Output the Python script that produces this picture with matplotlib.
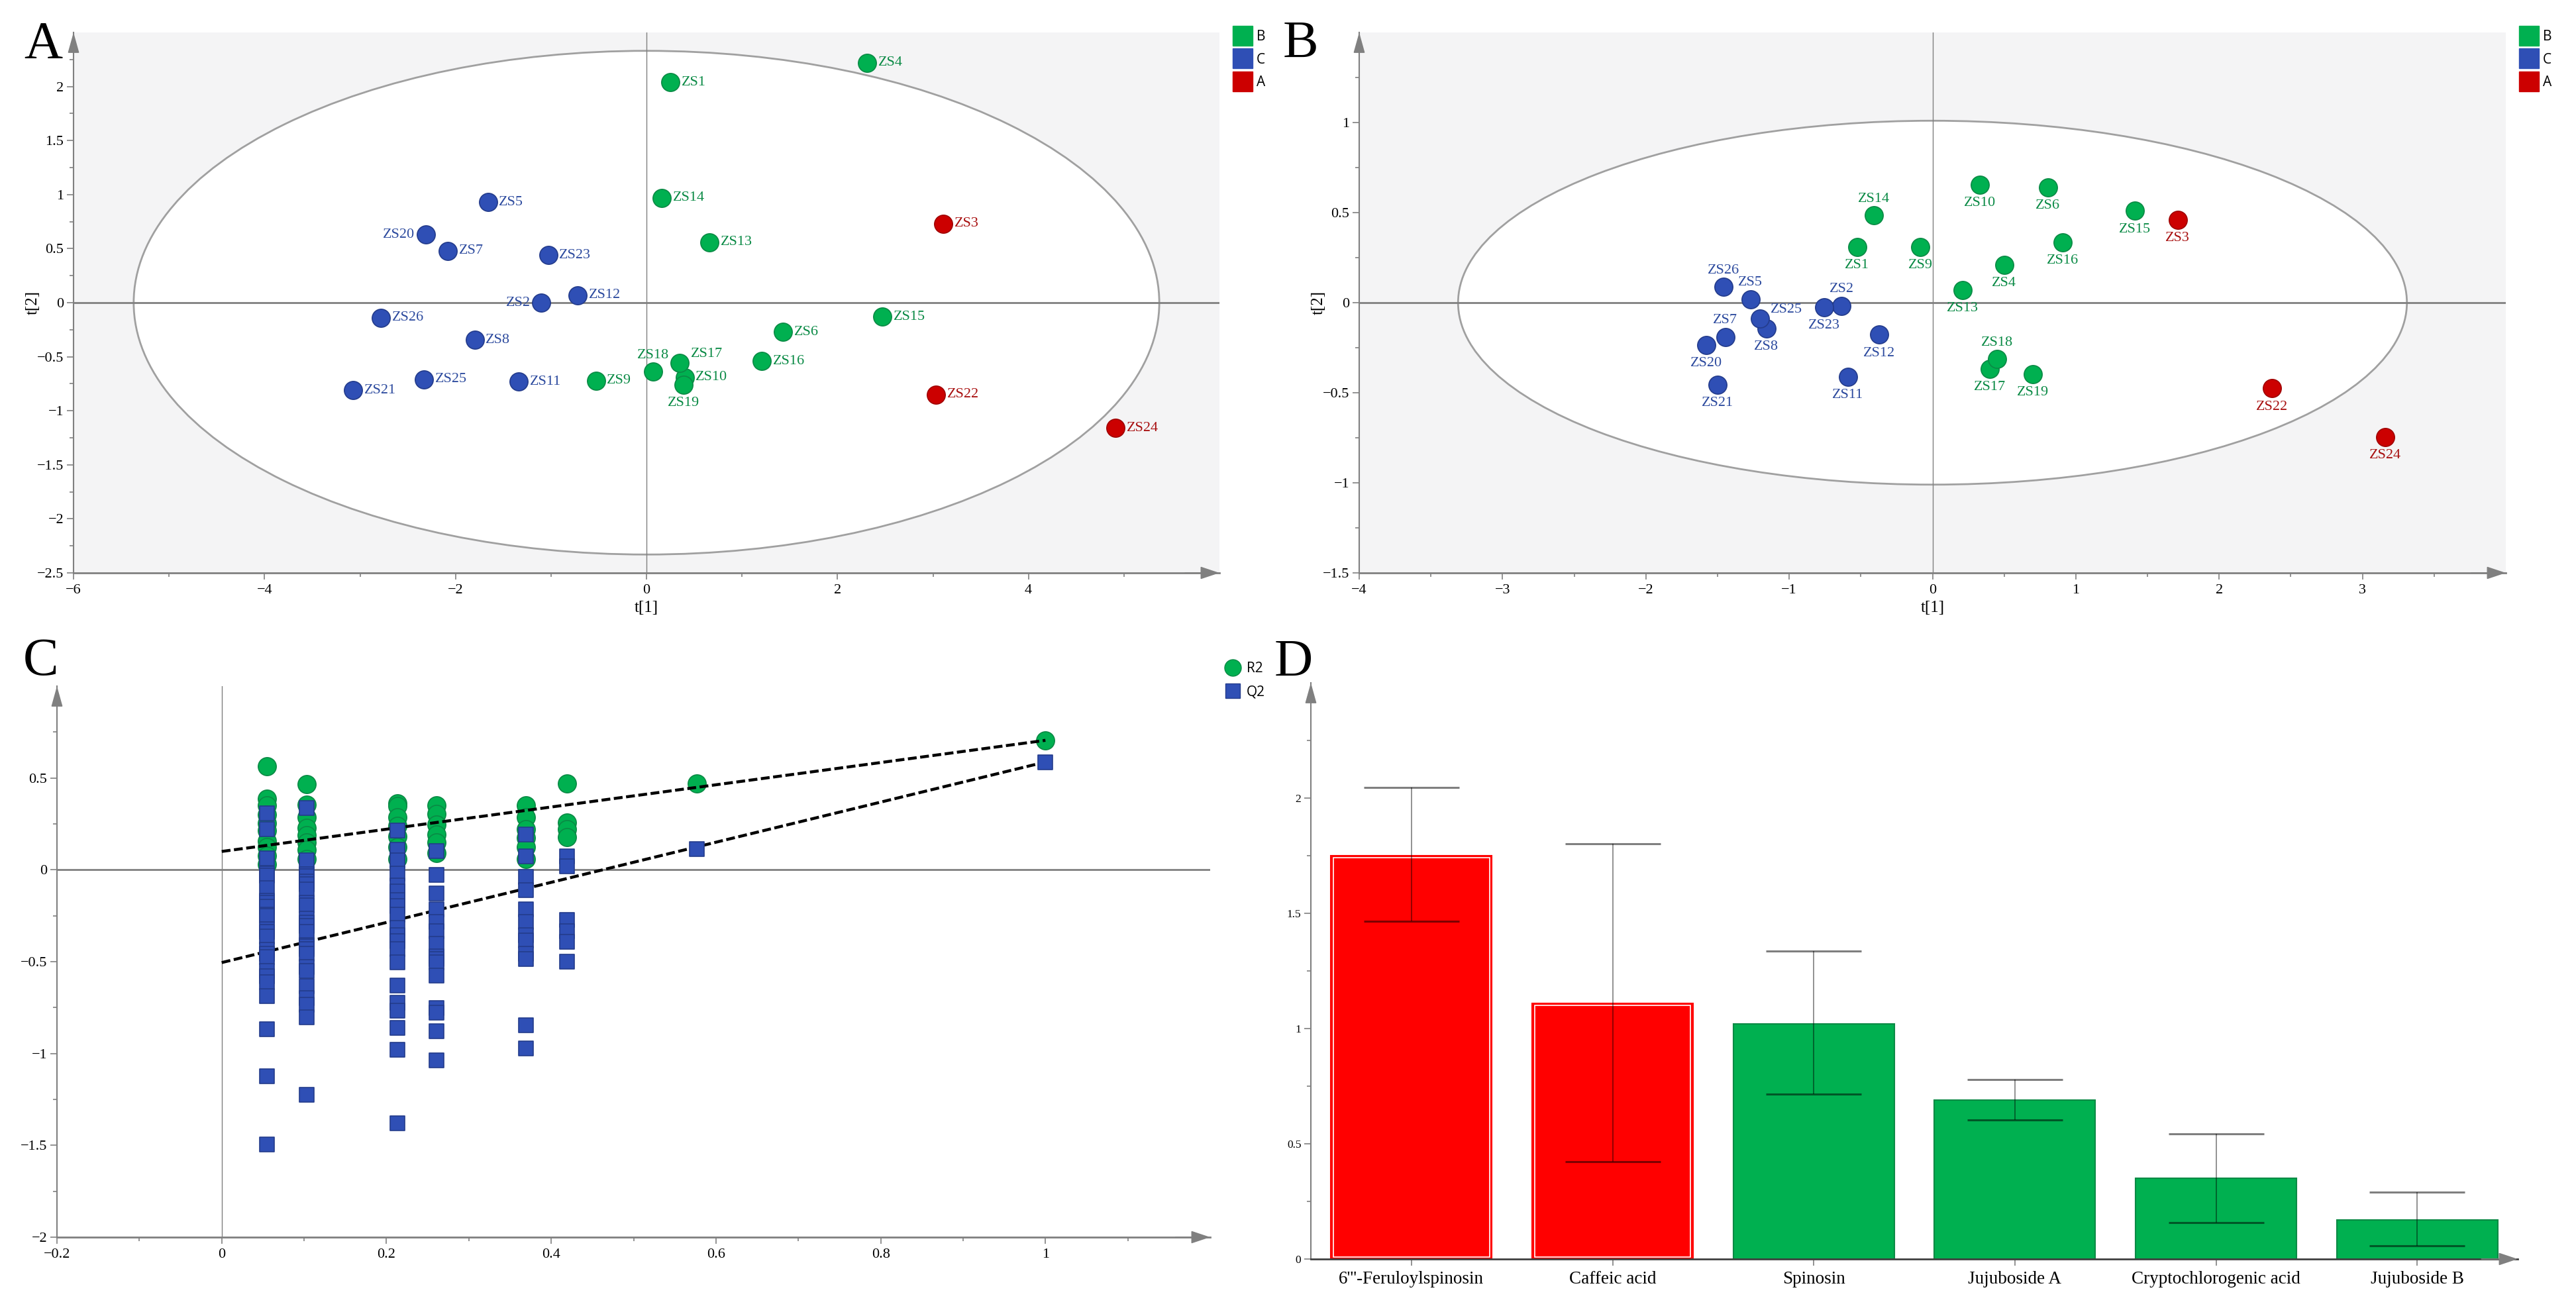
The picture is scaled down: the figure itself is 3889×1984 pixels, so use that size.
#!/usr/bin/env python3
# -*- coding: utf-8 -*-
import matplotlib
matplotlib.use("Agg")
import matplotlib.pyplot as plt
from matplotlib.lines import Line2D
from matplotlib.patches import Ellipse
from matplotlib.ticker import FuncFormatter

plt.rcParams['font.family'] = ['Liberation Serif', 'DejaVu Serif']

W = 3889
H = 1984

# sample names per group, same for score plots A and B
green_names = ['ZS1', 'ZS4', 'ZS6', 'ZS9', 'ZS10', 'ZS13', 'ZS14', 'ZS15', 'ZS16', 'ZS17', 'ZS18', 'ZS19']
blue_names = ['ZS2', 'ZS5', 'ZS7', 'ZS8', 'ZS11', 'ZS12', 'ZS20', 'ZS21', 'ZS23', 'ZS25', 'ZS26']
red_names = ['ZS3', 'ZS22', 'ZS24']

# panel A
a_green_x = [0.25, 2.31, 1.43, -0.53, 0.40, 0.66, 0.16, 2.47, 1.21, 0.35, 0.07, 0.39]
a_green_y = [2.04, 2.22, -0.27, -0.72, -0.69, 0.56, 0.97, -0.13, -0.54, -0.56, -0.64, -0.76]
a_blue_x = [-1.10, -1.66, -2.08, -1.80, -1.34, -0.72, -2.31, -3.07, -1.03, -2.33, -2.78]
a_blue_y = [0.0, 0.93, 0.48, -0.345, -0.73, 0.07, 0.63, -0.81, 0.44, -0.71, -0.14]
a_red_x = [3.11, 3.03, 4.91]
a_red_y = [0.73, -0.85, -1.16]

# panel B
b_green_x = [-0.525, 0.50, 0.805, -0.085, 0.33, 0.21, -0.41, 1.41, 0.91, 0.40, 0.45, 0.70]
b_green_y = [0.31, 0.21, 0.64, 0.31, 0.655, 0.07, 0.485, 0.51, 0.335, -0.367, -0.314, -0.396]
b_blue_x = [-0.635, -1.27, -1.445, -1.16, -0.59, -0.37, -1.58, -1.50, -0.755, -1.205, -1.46]
b_blue_y = [-0.018, 0.02, -0.19, -0.142, -0.41, -0.178, -0.236, -0.456, -0.024, -0.09, 0.087]
b_red_x = [1.71, 2.37, 3.16]
b_red_y = [0.46, -0.476, -0.745]

# panel C, permutation test
perm_x = [0.055, 0.103, 0.213, 0.261, 0.369, 0.419, 0.577, 1.0]
r2_vals = [
    [0.565, 0.386, 0.35, 0.30, 0.255, 0.214, 0.158, 0.125, 0.077, 0.03],
    [0.465, 0.354, 0.286, 0.23, 0.19, 0.15, 0.11, 0.06],
    [0.36, 0.347, 0.286, 0.238, 0.18, 0.125, 0.06],
    [0.35, 0.305, 0.246, 0.193, 0.15, 0.093],
    [0.35, 0.286, 0.222, 0.174, 0.125, 0.06],
    [0.471, 0.257, 0.222, 0.178],
    [0.471],
    [0.705],
]
q2_vals = [
    [0.307, 0.222, 0.061, -0.019, -0.031, -0.1, -0.167, -0.179, -0.199, -0.243, -0.251, -0.325, -0.336,
     -0.364, -0.436, -0.457, -0.476, -0.55, -0.578, -0.613, -0.687, -0.866, -1.123, -1.495],
    [0.338, 0.05, -0.024, -0.035, -0.063, -0.079, -0.106, -0.179, -0.195, -0.264, -0.288, -0.304, -0.336,
     -0.409, -0.417, -0.43, -0.457, -0.529, -0.55, -0.635, -0.697, -0.735, -0.803, -1.223],
    [0.214, 0.109, 0.053, -0.019, -0.084, -0.116, -0.164, -0.196, -0.245, -0.317, -0.357, -0.389, -0.43,
     -0.502, -0.629, -0.724, -0.767, -0.859, -0.98, -1.38],
    [0.101, -0.027, -0.129, -0.216, -0.285, -0.333, -0.402, -0.47, -0.486, -0.502, -0.574, -0.751, -0.776,
     -0.88, -1.038],
    [0.193, 0.072, -0.04, -0.111, -0.216, -0.285, -0.357, -0.384, -0.457, -0.486, -0.845, -0.973],
    [0.072, 0.02, -0.272, -0.333, -0.392, -0.5],
    [0.114],
    [0.587],
]
r2_line_x = [0, 1]
r2_line_y = [0.1, 0.705]
q2_line_x = [0, 1]
q2_line_y = [-0.505, 0.587]

# panel D
compounds = ["6'''-Feruloylspinosin", 'Caffeic acid', 'Spinosin', 'Jujuboside A', 'Cryptochlorogenic acid', 'Jujuboside B']
bar_vals = [1.75, 1.11, 1.02, 0.69, 0.35, 0.17]
err_high = [2.047, 1.803, 1.335, 0.78, 0.544, 0.29]
err_low = [1.466, 0.422, 0.716, 0.604, 0.159, 0.057]

GREEN = '#00b050'
GREEN_E = '#0a8a45'
BLUE = '#2f4fb5'
BLUE_E = '#243c8c'
RED = '#cc0000'
RED_E = '#a00000'
GRAY = '#808080'
SHADE = '#f4f4f5'


def make_axes(left, right, top, bottom):
    return fig.add_axes([left / W, 1 - bottom / H, (right - left) / W, (bottom - top) / H])


def tick_range(lo, hi, step):
    # ticks stop short of the arrow head at the end of the axis
    n = int(round((hi - lo) / step))
    return [round(lo + i * step, 6) + 0.0 for i in range(n)]


def tick_text(v, pos):
    return ('%g' % v).replace('-', '\u2212')


def style_axes(ax, xmaj, xmin, ymaj, ymin, size=16):
    for s in ['top', 'right']:
        ax.spines[s].set_visible(False)
    for s in ['left', 'bottom']:
        ax.spines[s].set_color(GRAY)
        ax.spines[s].set_linewidth(1.5)
    ax.spines['bottom'].set_linewidth(2)
    x0, x1 = ax.get_xlim()
    y0, y1 = ax.get_ylim()
    ax.set_xticks(tick_range(x0, x1, xmaj))
    ax.set_xticks(tick_range(x0, x1, xmin), minor=True)
    ax.set_yticks(tick_range(y0, y1, ymaj))
    ax.set_yticks(tick_range(y0, y1, ymin), minor=True)
    ax.xaxis.set_major_formatter(FuncFormatter(tick_text))
    ax.yaxis.set_major_formatter(FuncFormatter(tick_text))
    ax.tick_params(which='major', length=7, width=1.2, color=GRAY, labelsize=size)
    ax.tick_params(which='minor', length=4.5, width=1.2, color=GRAY)
    ax.tick_params(axis='x', which='major', pad=5)
    ax.tick_params(axis='y', which='major', pad=3.5)
    # arrow heads at the end of the axes
    ax.annotate('', xy=(0, 1), xytext=(0, 0.96), xycoords='axes fraction',
                arrowprops=dict(arrowstyle='-|>,head_length=0.97,head_width=0.27', color=GRAY, lw=1.2,
                                shrinkA=0, shrinkB=0, mutation_scale=20), annotation_clip=False)
    ax.annotate('', xy=(1, 0), xytext=(0.97, 0), xycoords='axes fraction',
                arrowprops=dict(arrowstyle='-|>,head_length=0.9,head_width=0.3', color=GRAY, lw=1.2,
                                shrinkA=0, shrinkB=0, mutation_scale=20), annotation_clip=False)


def draw_labels(ax, names, xs, ys, color, default, spots):
    offs = {'r': (12, 0, 'left', 'center'), 'l': (-12, 0, 'right', 'center'),
            't': (0, 18, 'center', 'center'), 'b': (0, -20, 'center', 'center'),
            'tr': (12, 10, 'left', 'center')}
    for n, x, y in zip(names, xs, ys):
        dx, dy, ha, va = offs[spots.get(n, default)]
        ax.annotate(n, (x, y), xytext=(dx, dy), textcoords='offset points', ha=ha, va=va,
                    color=color, fontsize=16)


def score_plot(ax, xlim, ylim, rx, ry, xmaj, xmin, ymaj, ymin, groups, default, spots):
    ax.set_facecolor(SHADE)
    ax.set_xlim(xlim)
    ax.set_ylim(ylim)
    ax.add_patch(Ellipse((0, 0), 2 * rx, 2 * ry, facecolor='white', edgecolor='#a0a0a0', lw=2, zorder=1))
    ax.axhline(0, color=GRAY, lw=2, zorder=2)
    ax.axvline(0, color=GRAY, lw=1, zorder=2)
    for names, xs, ys, col, edge, txt in groups:
        ax.scatter(xs, ys, s=385, color=col, edgecolor=edge, lw=1.2, zorder=3)
        draw_labels(ax, names, xs, ys, txt, default, spots)
    style_axes(ax, xmaj, xmin, ymaj, ymin)
    ax.set_xlabel('t[1]', fontsize=18)
    ax.set_ylabel('t[2]', fontsize=18)
    ax.xaxis.set_label_coords(0.5, -0.0515)
    ax.yaxis.set_label_coords(-0.029, 0.5)


def side_legend(ax, labels, colors, edges, markers, sizes, anchor):
    handles = [Line2D([], [], linestyle='none', marker=m, markersize=z, markerfacecolor=c, markeredgecolor=e)
               for m, z, c, e in zip(markers, sizes, colors, edges)]
    ax.legend(handles, labels, loc='upper left', bbox_to_anchor=anchor, frameon=False, handletextpad=0,
              labelspacing=0.66, prop={'family': 'Open Sans', 'size': 15}, borderpad=0, borderaxespad=0)


fig = plt.figure(figsize=(W / 100, H / 100), dpi=100)

# A
ax_a = make_axes(111, 1841, 49, 865)
score_plot(ax_a, (-6, 6), (-2.5, 2.5), 5.37, 2.33, 2, 1, 0.5, 0.25,
           [(green_names, a_green_x, a_green_y, GREEN, GREEN_E, '#0a8a45'),
            (blue_names, a_blue_x, a_blue_y, BLUE, BLUE_E, '#2c4a9e'),
            (red_names, a_red_x, a_red_y, RED, RED_E, '#a81010')],
           'r', {'ZS20': 'l', 'ZS2': 'l', 'ZS18': 't', 'ZS19': 'b', 'ZS17': 'tr'})
side_legend(ax_a, ['B', 'C', 'A'], [GREEN, BLUE, RED], [GREEN, BLUE, RED], ['s', 's', 's'], [21.6] * 3, (1.008, 1.005))

# B
ax_b = make_axes(2052, 3783, 49, 865)
score_plot(ax_b, (-4, 4), (-1.5, 1.5), 3.31, 1.01, 1, 0.5, 0.5, 0.25,
           [(green_names, b_green_x, b_green_y, GREEN, GREEN_E, '#0a8a45'),
            (blue_names, b_blue_x, b_blue_y, BLUE, BLUE_E, '#2c4a9e'),
            (red_names, b_red_x, b_red_y, RED, RED_E, '#a81010')],
           'b', {'ZS14': 't', 'ZS26': 't', 'ZS5': 't', 'ZS2': 't', 'ZS7': 't', 'ZS18': 't', 'ZS25': 'tr'})
side_legend(ax_b, ['B', 'C', 'A'], [GREEN, BLUE, RED], [GREEN, BLUE, RED], ['s', 's', 's'], [21.6] * 3, (1.008, 1.005))

# C
ax_c = make_axes(86, 1827, 1036, 1868)
ax_c.set_xlim(-0.2, 1.2)
ax_c.set_ylim(-2, 1)
ax_c.axhline(0, color=GRAY, lw=2, zorder=1)
ax_c.axvline(0, color=GRAY, lw=1, zorder=1)
for x, vals in zip(perm_x, r2_vals):
    ax_c.scatter([x] * len(vals), vals, s=385, color=GREEN, edgecolor=GREEN_E, lw=1.2, zorder=2)
ax_c.plot(r2_line_x, r2_line_y, color='black', ls=(0, (3, 1.2)), lw=3.2, zorder=3)
ax_c.plot(q2_line_x, q2_line_y, color='black', ls=(0, (3, 1.2)), lw=3.2, zorder=3)
for x, vals in zip(perm_x, q2_vals):
    ax_c.scatter([x] * len(vals), vals, s=240, marker='s', color=BLUE, edgecolor=BLUE_E, lw=1.2, zorder=4)
style_axes(ax_c, 0.2, 0.1, 0.5, 0.25)
side_legend(ax_c, ['R2', 'Q2'], [GREEN, BLUE], [GREEN_E, BLUE_E], ['o', 's'], [18, 16], (1.0075, 1.044))

# D
ax_d = make_axes(1979, 3801, 1031, 1901)
ax_d.set_xlim(-0.5, 5.5)
ax_d.set_ylim(0, 2.5)
positions = list(range(len(compounds)))
bar_colors = ['#ff0000', '#ff0000', GREEN, GREEN, GREEN, GREEN]
bar_edges = ['#ff0000', '#ff0000', GREEN_E, GREEN_E, GREEN_E, GREEN_E]
ax_d.bar(positions, bar_vals, width=0.8, color=bar_colors, edgecolor=bar_edges, lw=1.5, zorder=2)
# white inner outline on the two red bars
inset = 0.009
ax_d.bar(positions[:2], [v - 2 * inset for v in bar_vals[:2]], bottom=inset, width=0.777, fill=False,
         edgecolor='white', lw=1.2, zorder=3)
yerr = [[v - l for v, l in zip(bar_vals, err_low)], [h - v for v, h in zip(bar_vals, err_high)]]
ax_d.errorbar(positions, bar_vals, yerr=yerr, fmt='none', ecolor='black', alpha=0.5, elinewidth=1.2,
              capsize=52, capthick=2.2, zorder=4)
style_axes(ax_d, 1, 1, 0.5, 0.25, size=12.5)
ax_d.spines['bottom'].set_color('#404040')
ax_d.set_xticks(positions)
ax_d.set_xticklabels(compounds, fontsize=19.5)
ax_d.tick_params(axis='x', which='major', pad=6)
ax_d.tick_params(axis='x', which='minor', length=0)

# panel letters
for letter, x, y in [('A', 65, 88), ('B', 1963, 87), ('C', 62, 1019), ('D', 1953, 1021)]:
    fig.text(x / W, 1 - y / H, letter, fontsize=58, ha='center', va='baseline')

fig.savefig('out.png', dpi=100)
